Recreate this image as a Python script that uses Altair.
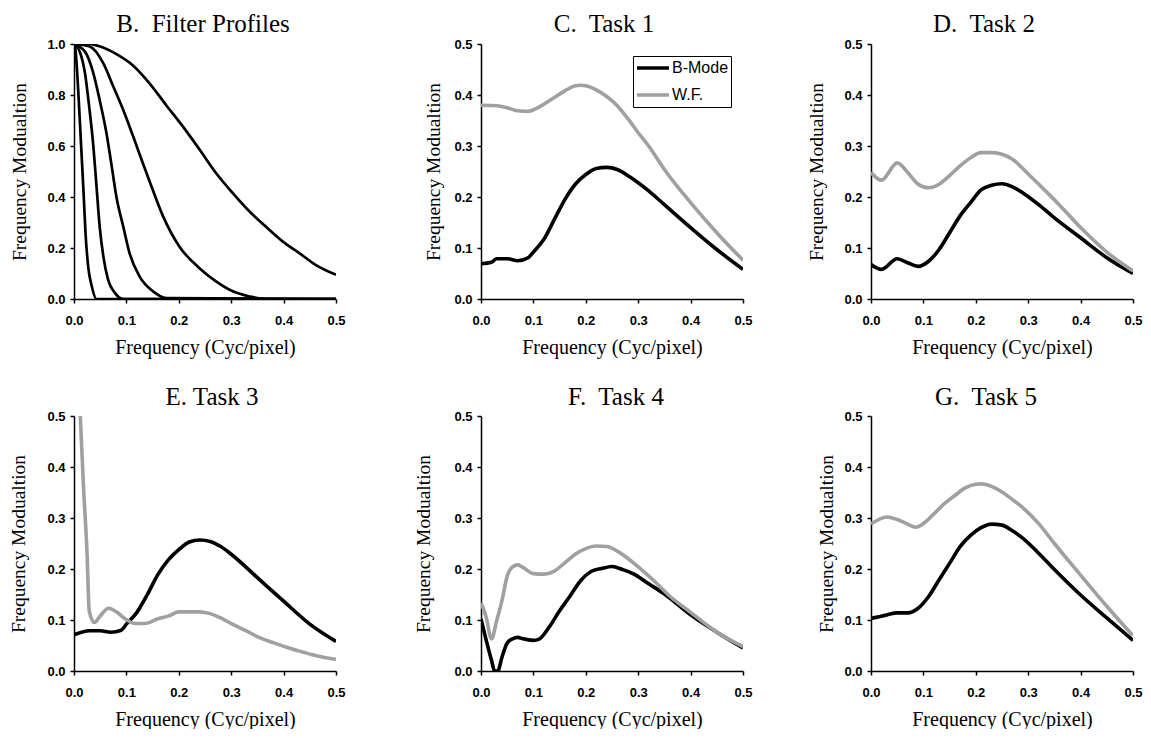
import altair as alt
import pandas as pd

FREQ_TICKS = [0.0, 0.1, 0.2, 0.3, 0.4, 0.5]
TASK_TICKS = [0.0, 0.1, 0.2, 0.3, 0.4, 0.5]
PROFILE_TICKS = [0.0, 0.2, 0.4, 0.6, 0.8, 1.0]
SERIES = ["B-Mode", "W.F."]
SERIES_COLORS = ["#000000", "#a0a0a0"]

# ---- B. Filter Profiles (five low-pass curves) ----
prof1_x = [0.0, 0.002, 0.008, 0.013, 0.018, 0.022, 0.027, 0.034, 0.043, 0.5]
prof1_y = [1.0, 0.99, 0.82, 0.624, 0.428, 0.258, 0.128, 0.049, 0.0, 0.0]
prof2_x = [0.0, 0.011, 0.021, 0.029, 0.037, 0.043, 0.049, 0.056, 0.065, 0.078, 0.094, 0.5]
prof2_y = [1.0, 0.97, 0.885, 0.754, 0.598, 0.441, 0.284, 0.167, 0.076, 0.024, 0.0, 0.0]
prof3_x = [0.0, 0.021, 0.037, 0.049, 0.062, 0.072, 0.081, 0.094, 0.106, 0.125, 0.151, 0.176, 0.5]
prof3_y = [1.0, 0.97, 0.885, 0.78, 0.65, 0.52, 0.40, 0.284, 0.18, 0.089, 0.03, 0.004, 0.0]
prof4_x = [0.0, 0.030, 0.056, 0.075, 0.094, 0.113, 0.129, 0.1445, 0.170, 0.201, 0.240, 0.271, 0.303, 0.335, 0.366, 0.5]
prof4_y = [1.0, 0.99, 0.924, 0.833, 0.741, 0.637, 0.546, 0.46, 0.324, 0.206, 0.12, 0.069, 0.030, 0.010, 0.0, 0.0]
prof5_x = [0.0, 0.024, 0.05, 0.081, 0.113, 0.1445, 0.176, 0.208, 0.240, 0.271, 0.303, 0.335, 0.366, 0.398, 0.430, 0.461, 0.5]
prof5_y = [1.0, 1.0, 0.99, 0.96, 0.915, 0.845, 0.76, 0.676, 0.585, 0.494, 0.415, 0.343, 0.284, 0.226, 0.180, 0.134, 0.095]

# ---- C. Task 1 ----
c_bm_x = [0.0, 0.02, 0.03, 0.05, 0.07, 0.09, 0.1, 0.12, 0.14, 0.16, 0.18, 0.2, 0.22, 0.24, 0.26, 0.28, 0.3, 0.32, 0.35, 0.4, 0.45, 0.5]
c_bm_y = [0.069, 0.072, 0.079, 0.079, 0.075, 0.081, 0.092, 0.117, 0.156, 0.195, 0.225, 0.244, 0.256, 0.258, 0.254, 0.242, 0.228, 0.212, 0.185, 0.140, 0.097, 0.058]
c_wf_x = [0.0, 0.03, 0.05, 0.07, 0.09, 0.1, 0.12, 0.14, 0.16, 0.18, 0.19, 0.2, 0.22, 0.24, 0.26, 0.28, 0.3, 0.32, 0.35, 0.4, 0.45, 0.5]
c_wf_y = [0.380, 0.379, 0.375, 0.369, 0.368, 0.371, 0.382, 0.395, 0.408, 0.418, 0.419, 0.418, 0.410, 0.397, 0.379, 0.354, 0.326, 0.300, 0.254, 0.189, 0.130, 0.076]

# ---- D. Task 2 ----
d_bm_x = [0.0, 0.02, 0.05, 0.07, 0.09, 0.11, 0.13, 0.15, 0.17, 0.19, 0.21, 0.23, 0.25, 0.27, 0.29, 0.32, 0.35, 0.4, 0.45, 0.5]
d_bm_y = [0.0675, 0.058, 0.079, 0.071, 0.064, 0.074, 0.097, 0.130, 0.163, 0.189, 0.214, 0.223, 0.226, 0.220, 0.208, 0.185, 0.159, 0.120, 0.081, 0.050]
d_wf_x = [0.0, 0.02, 0.05, 0.07, 0.09, 0.11, 0.13, 0.15, 0.17, 0.19, 0.21, 0.23, 0.25, 0.27, 0.3, 0.33, 0.36, 0.4, 0.45, 0.5]
d_wf_y = [0.248, 0.233, 0.267, 0.248, 0.225, 0.218, 0.225, 0.242, 0.261, 0.277, 0.287, 0.287, 0.284, 0.274, 0.245, 0.215, 0.184, 0.140, 0.092, 0.055]

# ---- E. Task 3 ----
e_bm_x = [0.0, 0.03, 0.05, 0.07, 0.09, 0.1, 0.12, 0.14, 0.16, 0.18, 0.2, 0.22, 0.24, 0.26, 0.28, 0.3, 0.35, 0.4, 0.45, 0.5]
e_bm_y = [0.071, 0.079, 0.079, 0.076, 0.080, 0.092, 0.115, 0.150, 0.189, 0.218, 0.238, 0.253, 0.257, 0.254, 0.244, 0.229, 0.183, 0.137, 0.092, 0.058]
e_wf_x = [0.012, 0.018, 0.025, 0.029, 0.039, 0.05, 0.066, 0.082, 0.098, 0.117, 0.136, 0.159, 0.181, 0.2, 0.219, 0.238, 0.258, 0.28, 0.302, 0.328, 0.353, 0.379, 0.404, 0.43, 0.455, 0.481, 0.5]
e_wf_y = [0.5, 0.364, 0.228, 0.118, 0.095, 0.108, 0.123, 0.115, 0.102, 0.093, 0.093, 0.102, 0.108, 0.116, 0.116, 0.116, 0.113, 0.104, 0.092, 0.079, 0.066, 0.056, 0.047, 0.039, 0.032, 0.026, 0.023]

# ---- F. Task 4 ----
f_bm_x = [0.0, 0.01, 0.02, 0.026, 0.032, 0.04, 0.05, 0.06, 0.07, 0.08, 0.1, 0.11, 0.13, 0.15, 0.17, 0.19, 0.21, 0.23, 0.25, 0.27, 0.29, 0.32, 0.35, 0.4, 0.45, 0.5]
f_bm_y = [0.102, 0.06, 0.021, 0.0, 0.0, 0.027, 0.055, 0.063, 0.066, 0.063, 0.060, 0.062, 0.086, 0.118, 0.147, 0.177, 0.195, 0.201, 0.205, 0.199, 0.191, 0.171, 0.151, 0.110, 0.076, 0.045]
f_wf_x = [0.0, 0.01, 0.02, 0.03, 0.04, 0.05, 0.06, 0.07, 0.08, 0.1, 0.12, 0.14, 0.16, 0.18, 0.2, 0.22, 0.24, 0.26, 0.28, 0.3, 0.33, 0.36, 0.4, 0.45, 0.5]
f_wf_y = [0.134, 0.105, 0.063, 0.099, 0.138, 0.186, 0.204, 0.208, 0.203, 0.191, 0.190, 0.196, 0.212, 0.229, 0.240, 0.245, 0.244, 0.235, 0.221, 0.204, 0.177, 0.147, 0.115, 0.076, 0.048]

# ---- G. Task 5 ----
g_bm_x = [0.0, 0.03, 0.05, 0.07, 0.09, 0.11, 0.13, 0.15, 0.17, 0.19, 0.21, 0.23, 0.25, 0.27, 0.29, 0.32, 0.35, 0.4, 0.45, 0.5]
g_bm_y = [0.103, 0.110, 0.114, 0.114, 0.123, 0.146, 0.179, 0.211, 0.244, 0.266, 0.281, 0.288, 0.286, 0.275, 0.260, 0.231, 0.199, 0.149, 0.104, 0.060]
g_wf_x = [0.0, 0.03, 0.05, 0.07, 0.085, 0.1, 0.12, 0.14, 0.16, 0.18, 0.2, 0.21, 0.23, 0.25, 0.27, 0.29, 0.32, 0.35, 0.4, 0.45, 0.5]
g_wf_y = [0.288, 0.302, 0.297, 0.288, 0.282, 0.289, 0.308, 0.328, 0.344, 0.359, 0.366, 0.367, 0.362, 0.351, 0.336, 0.320, 0.289, 0.250, 0.188, 0.127, 0.069]

PANEL_W = 262
PANEL_H = 255
X_TITLE = "Frequency (Cyc/pixel)"
Y_TITLE = "Frequency Modualtion"


def x_enc():
    return alt.X(
        "freq:Q",
        scale=alt.Scale(domain=[0, 0.5], nice=False, zero=False),
        axis=alt.Axis(values=FREQ_TICKS, format=".1f", title=X_TITLE),
    )


def panel_title(text, dx, offset):
    return alt.Title(text, dx=dx, offset=offset)


def profile_panel(tpad):
    rows = []
    curves = [(prof1_x, prof1_y), (prof2_x, prof2_y), (prof3_x, prof3_y),
              (prof4_x, prof4_y), (prof5_x, prof5_y)]
    for i, (xs, ys) in enumerate(curves):
        for x, y in zip(xs, ys):
            rows.append({"curve": f"f{i+1}", "freq": x, "value": y})
    df = pd.DataFrame(rows)
    return alt.Chart(df, title=panel_title("B.\u00a0 Filter Profiles", -2, 1)).mark_line(
        color="black", strokeWidth=2.7, interpolate="monotone", clip=True
    ).encode(
        x=x_enc(),
        y=alt.Y("value:Q", scale=alt.Scale(domain=[0, 1], nice=False),
                axis=alt.Axis(values=PROFILE_TICKS, format=".1f", title=Y_TITLE, titlePadding=tpad)),
        detail="curve:N",
    ).properties(width=PANEL_W, height=PANEL_H)


def task_panel(title, bx, by, gx, gy, tpad, legend=False):
    rows = [{"series": "B-Mode", "freq": x, "value": y} for x, y in zip(bx, by)]
    rows += [{"series": "W.F.", "freq": x, "value": y} for x, y in zip(gx, gy)]
    df = pd.DataFrame(rows)
    if legend:
        leg = alt.Legend(
            title=None, orient="top-right", offset=12,
            symbolType="stroke", symbolSize=1024, symbolStrokeWidth=3.5,
            labelFont="Liberation Sans", labelFontSize=16, labelColor="black",
            strokeColor="black", fillColor="white", padding=2,
            rowPadding=7, clipHeight=20, labelOffset=1,
        )
    else:
        leg = None
    return alt.Chart(df, title=title).mark_line(
        strokeWidth=3.6, interpolate="monotone", clip=True
    ).encode(
        x=x_enc(),
        y=alt.Y("value:Q", scale=alt.Scale(domain=[0, 0.5], nice=False),
                axis=alt.Axis(values=TASK_TICKS, format=".1f", title=Y_TITLE, titlePadding=tpad)),
        color=alt.Color("series:N", scale=alt.Scale(domain=SERIES, range=SERIES_COLORS), legend=leg),
        order=alt.Order("series:N"),
    ).properties(width=PANEL_W, height=PANEL_H)


pB = profile_panel(17.5)
pC = task_panel(panel_title("C.\u00a0 Task 1", -8, 1), c_bm_x, c_bm_y, c_wf_x, c_wf_y, 10, legend=True)
pD = task_panel(panel_title("D.\u00a0 Task 2", -18, 1), d_bm_x, d_bm_y, d_wf_x, d_wf_y, 17)
pE = task_panel(panel_title("E. Task 3", 7, 0), e_bm_x, e_bm_y, e_wf_x, e_wf_y, 18.5)
pF = task_panel(panel_title("F.\u00a0 Task 4", 4, 0), f_bm_x, f_bm_y, f_wf_x, f_wf_y, 20.5)
pG = task_panel(panel_title("G.\u00a0 Task 5", -16, 0), g_bm_x, g_bm_y, g_wf_x, g_wf_y, 7.5)

row1 = alt.hconcat(
    pB,
    alt.hconcat(pC, pD, spacing=128, bounds="flush").resolve_legend(color="independent"),
    spacing=145, bounds="flush",
).resolve_legend(color="independent")
row2 = alt.hconcat(
    pE,
    alt.hconcat(pF, pG, spacing=128, bounds="flush").resolve_legend(color="independent"),
    spacing=145, bounds="flush",
).resolve_legend(color="independent")

chart = alt.vconcat(row1, row2, spacing=372, bounds="flush").resolve_legend(
    color="independent"
).properties(
    padding={"left": 0, "top": 4, "right": 0, "bottom": 0}
).configure_view(stroke=None).configure_axis(
    grid=False,
    domainColor="black", domainWidth=1.5,
    tickColor="black", tickWidth=1.5, tickSize=4,
    labelFont="Liberation Sans", labelFontWeight="bold", labelFontSize=13, labelColor="black",
    titleFont="Liberation Serif", titleFontWeight="normal", titleFontSize=19.5, titleColor="black",
).configure_axisX(
    labelPadding=11, titlePadding=10, labelFlush=False, titleFontSize=20,
).configure_axisY(
    labelPadding=5,
).configure_title(
    font="Liberation Serif", fontSize=25, fontWeight="normal", color="black",
    anchor="middle",
)

chart.save("out.html", embed_options={"renderer": "svg", "actions": False})
